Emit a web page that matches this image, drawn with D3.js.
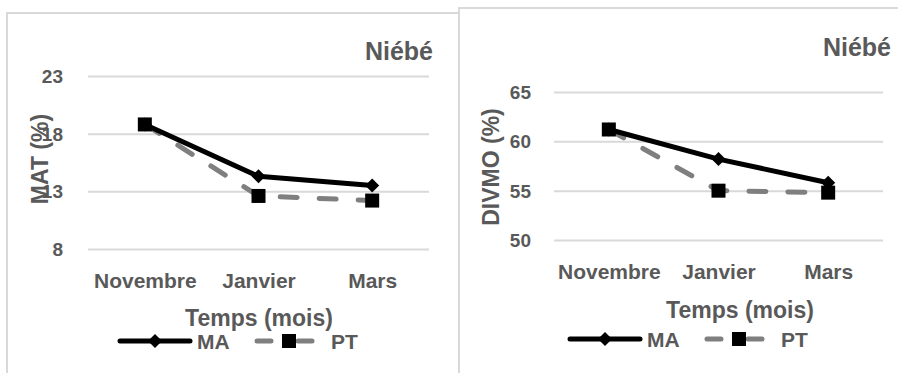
<!DOCTYPE html>
<html><head><meta charset="utf-8">
<script src="https://cdn.jsdelivr.net/npm/d3@7"></script>
<style>
html,body{margin:0;padding:0;background:#fff;}
svg text{font-family:"Liberation Sans",Arial,sans-serif;font-weight:bold;fill:#595959;}
</style></head>
<body>
<svg id="chart" width="898" height="373"></svg>
<script>
const categories = ["Novembre", "Janvier", "Mars"];
const matMA = [18.8, 14.3, 13.5];
const matPT = [18.8, 12.6, 12.2];
const divmoMA = [61.2, 58.2, 55.8];
const divmoPT = [61.2, 55.0, 54.8];
const matTicks = [8, 13, 18, 23];
const divmoTicks = [50, 55, 60, 65];
const seriesNames = ["MA", "PT"];
const panelTitle = "Niébé";
const xTitle = "Temps (mois)";
const yTitles = ["MAT (%)", "DIVMO (%)"];

const svg = d3.select("#chart");

const panels = [
  {box:[7,13,452,380], ma:matMA, pt:matPT, ticks:matTicks, ytitle:yTitles[0],
   x0:88, x1:429, yTop:76, yBot:249, tickX:63, catY:288, titleX:433, titleY:60,
   yTitleX:40, yTitleY:159, xTitleX:259, xTitleY:326, legY:341, legX:120},
  {box:[459,8,450,380], ma:divmoMA, pt:divmoPT, ticks:divmoTicks, ytitle:yTitles[1],
   x0:554, x1:883, yTop:92, yBot:240, tickX:531, catY:279, titleX:891, titleY:56,
   yTitleX:491, yTitleY:167, xTitleX:740, xTitleY:318, legY:339, legX:570}
];

panels.forEach(p => {
  const g = svg.append("g");
  g.append("rect").attr("x",p.box[0]).attr("y",p.box[1]).attr("width",p.box[2]).attr("height",p.box[3])
    .attr("fill","#fff").attr("stroke","#d9d9d9").attr("stroke-width",2);

  const x = d3.scalePoint().domain(categories).range([p.x0,p.x1]).padding(0.5);
  const y = d3.scaleLinear().domain([d3.min(p.ticks), d3.max(p.ticks)]).range([p.yBot,p.yTop]);

  const yAxis = d3.axisLeft(y).tickValues(p.ticks).tickSize(-(p.x1-p.x0)).tickFormat(d3.format("d")).tickPadding(0);
  const ya = g.append("g").attr("transform",`translate(${p.x0},0)`).call(yAxis);
  ya.select(".domain").remove();
  ya.selectAll(".tick line").attr("stroke","#d9d9d9").attr("stroke-width",2);
  ya.selectAll(".tick text").attr("x", p.tickX - p.x0).attr("font-size",19).attr("text-anchor","end")
    .attr("dy","0.35em").style("fill","#595959");

  const xAxis = d3.axisBottom(x).tickSize(0).tickPadding(0);
  const xa = g.append("g").attr("transform",`translate(0,${p.catY})`).call(xAxis);
  xa.select(".domain").remove();
  xa.selectAll(".tick text").attr("font-size",21).attr("dy",0).attr("y",0).style("fill","#595959");

  const line = d3.line().x((d,i)=>x(categories[i])).y(d=>y(d));

  g.append("path").datum(p.pt).attr("d",line).attr("fill","none").attr("stroke","#7f7f7f")
    .attr("stroke-width",5).attr("stroke-dasharray","17,22").attr("stroke-linecap","round");
  g.append("path").datum(p.ma).attr("d",line).attr("fill","none").attr("stroke","#000")
    .attr("stroke-width",5).attr("stroke-linejoin","round");

  const diamond = d3.symbol().type(d3.symbolDiamond2).size(125);
  g.selectAll(".dm").data(p.ma).enter().append("path")
    .attr("transform",(d,i)=>`translate(${x(categories[i])},${y(d)})`).attr("d",diamond).attr("fill","#000");
  g.selectAll(".sq").data(p.pt).enter().append("rect")
    .attr("x",(d,i)=>x(categories[i])-7).attr("y",d=>y(d)-7).attr("width",14).attr("height",14).attr("fill","#000");

  g.append("text").attr("x",p.titleX).attr("y",p.titleY).attr("text-anchor","end").attr("font-size",25).text(panelTitle);
  g.append("text").attr("transform",`translate(${p.yTitleX},${p.yTitleY}) rotate(-90)`)
    .attr("text-anchor","middle").attr("dy","0.35em").attr("font-size",23).text(p.ytitle);
  g.append("text").attr("x",p.xTitleX).attr("y",p.xTitleY).attr("text-anchor","middle").attr("font-size",23).text(xTitle);

  const lx = p.legX, ly = p.legY;
  g.append("line").attr("x1",lx).attr("x2",lx+70).attr("y1",ly).attr("y2",ly).attr("stroke","#000").attr("stroke-width",5).attr("stroke-linecap","round");
  g.append("path").attr("transform",`translate(${lx+35},${ly})`).attr("d",diamond).attr("fill","#000");
  g.append("text").attr("x",lx+77).attr("y",ly).attr("dy","0.36em").attr("font-size",21).text(seriesNames[0]);
  g.append("line").attr("x1",lx+137).attr("x2",lx+197).attr("y1",ly).attr("y2",ly).attr("stroke","#7f7f7f").attr("stroke-width",5).attr("stroke-dasharray","14,27").attr("stroke-linecap","round");
  g.append("rect").attr("x",lx+162).attr("y",ly-7).attr("width",14).attr("height",14).attr("fill","#000");
  g.append("text").attr("x",lx+211).attr("y",ly).attr("dy","0.36em").attr("font-size",21).text(seriesNames[1]);
});
</script>
</body></html>
